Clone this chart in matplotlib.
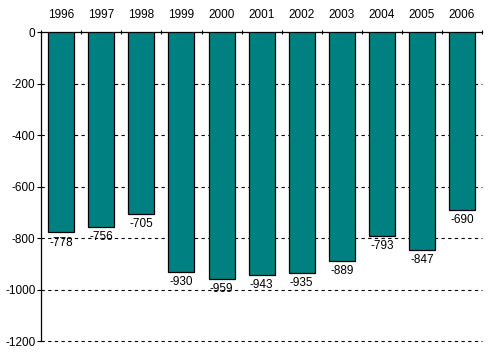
import numpy as np
import matplotlib.pyplot as plt

# Datos del grafico
years = ['1996', '1997', '1998', '1999', '2000', '2001', '2002', '2003', '2004', '2005', '2006']
values = [-778, -756, -705, -930, -959, -943, -935, -889, -793, -847, -690]
yticks = [-1200, -1000, -800, -600, -400, -200, 0]

plt.rcParams['font.family'] = ['Liberation Sans', 'DejaVu Sans']
plt.rcParams['axes.unicode_minus'] = False

fig = plt.figure(figsize=(4.96, 3.52), dpi=100)
ax = fig.add_axes([0.083, 0.031, 0.889, 0.878])

x = np.arange(len(years))
bars = ax.bar(x, values, width=0.65, color='#008080', edgecolor='black', linewidth=0.9, zorder=3)

for xi, v in zip(x, values):
    ax.annotate(str(v), (xi, v), xytext=(0, -3), textcoords='offset points',
                ha='center', va='top', fontsize=8.5, zorder=4)

ax.set_xlim(-0.5, len(years) - 0.5)
ax.set_ylim(-1200, 0)
ax.set_yticks(yticks)
ax.tick_params(axis='y', labelsize=8.5, length=3, width=0.8, direction='out', pad=1)

# lineas de cuadricula discontinuas
for yt in yticks[:-1]:
    ax.axhline(yt, linestyle=(0, (3, 3)), color='black', linewidth=0.8, zorder=0, clip_on=False)

# etiquetas de los anos arriba
ax.xaxis.tick_top()
ax.set_xticks(x)
ax.set_xticklabels(years)
ax.tick_params(axis='x', labelsize=8.5, length=0, pad=8)
ax.set_xticks(np.arange(-0.5, len(years)), minor=True)
ax.tick_params(axis='x', which='minor', length=3, width=0.8, direction='inout', top=True, bottom=False)

for s in ['right', 'bottom']:
    ax.spines[s].set_visible(False)
ax.spines['top'].set_linewidth(0.9)
ax.spines['left'].set_linewidth(0.9)

plt.savefig('out.png', dpi=100)
